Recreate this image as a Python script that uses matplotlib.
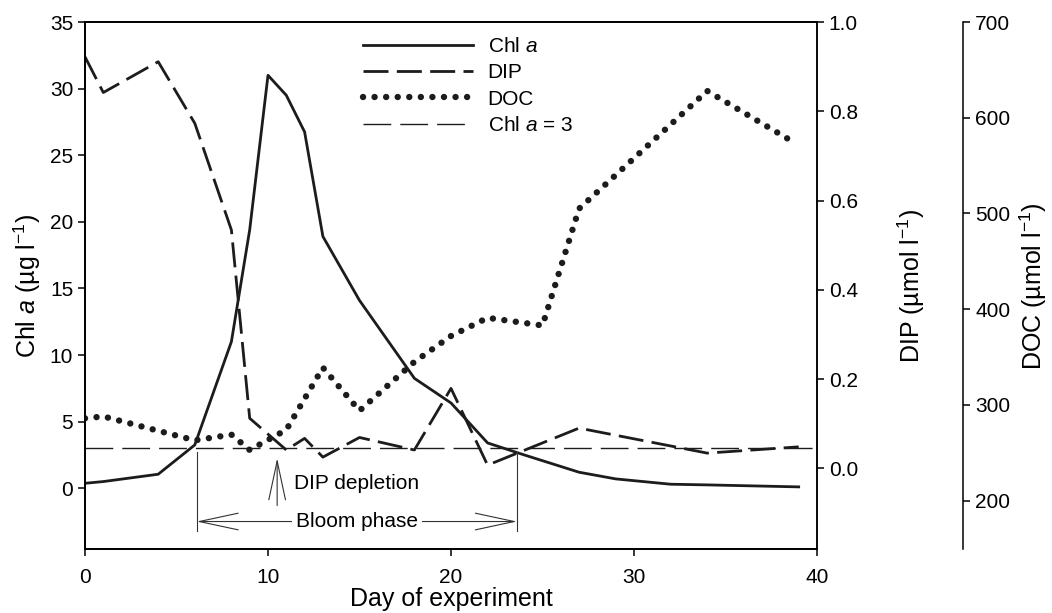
import matplotlib
matplotlib.use("Agg")
import matplotlib.pyplot as plt

plt.rcParams["font.family"] = ["Liberation Sans", "DejaVu Sans"]
plt.rcParams["mathtext.fontset"] = "custom"
plt.rcParams["mathtext.rm"] = "Liberation Sans"
plt.rcParams["mathtext.it"] = "Liberation Sans:italic"
plt.rcParams["font.size"] = 15

# Chl a (ug/l), left axis
chl_days = [0, 1, 4, 6, 8, 9, 10, 11, 12, 13, 15, 18, 20, 22, 24, 27, 29, 32, 34, 39]
chl_vals = [0.37, 0.5, 1.05, 3.25, 11.0, 19.4, 31.0, 29.5, 26.75, 18.9, 14.1, 8.25,
            6.4, 3.4, 2.5, 1.2, 0.7, 0.3, 0.25, 0.1]

# DIP (umol/l), first right axis
dip_days = [0, 1, 4, 6, 8, 9, 11, 12, 13, 15, 18, 20, 22, 27, 34, 39]
dip_vals = [0.922, 0.842, 0.911, 0.773, 0.534, 0.112, 0.041, 0.067, 0.025, 0.069,
            0.041, 0.179, 0.007, 0.09, 0.034, 0.048]

# DOC (umol/l), second right axis
doc_days = [0, 1, 6, 8, 9, 11, 13, 15, 18, 20, 22, 25, 27, 34, 38.5]
doc_vals = [286, 288, 263, 269, 253, 274, 339, 294, 345, 372, 391, 383, 505, 628, 577]

chl_threshold = 3
bloom_start, bloom_end = 6.1, 23.6
depletion_day = 10.5

ink = "#1c1c1c"

fig = plt.figure(figsize=(10.52, 6.13), dpi=100)
ax = fig.add_axes([0.0808, 0.1036, 0.6958, 0.8605])
ax_dip = ax.twinx()
ax_doc = ax.twinx()
ax_doc.spines["right"].set_position(("axes", 1.2))

for a in (ax, ax_dip, ax_doc):
    for s in a.spines.values():
        s.set_linewidth(1.1)
    a.tick_params(direction="out", length=5, width=1.1, labelsize=15)
ax.tick_params(axis="x", pad=8)

l_chl, = ax.plot(chl_days, chl_vals, color=ink, lw=2.0, label="Chl $\\mathit{a}$")
l_dip, = ax_dip.plot(dip_days, dip_vals, color=ink, lw=2.0,
                     linestyle=(0, (9, 3)), label="DIP")
l_doc, = ax_doc.plot(doc_days, doc_vals, color=ink, lw=4.6,
                     linestyle=(0, (0.01, 1.8)), dash_capstyle="round", label="DOC")
l_thr = ax.axhline(chl_threshold, color=ink, lw=1.0, linestyle=(0, (20, 6.5)),
                   label="Chl $\\mathit{a}$ = 3")

ax.set_xlim(0, 40)
ax.set_ylim(-4.6, 35)
ax.set_xticks([0, 10, 20, 30, 40])
ax.set_yticks(range(0, 36, 5))
ax_dip.set_ylim(-0.182, 1.0)
ax_dip.set_yticks([0.0, 0.2, 0.4, 0.6, 0.8, 1.0])
ax_dip.set_yticklabels(["0.0", "0.2", "0.4", "0.6", "0.8", "1.0"])
ax_doc.set_ylim(149, 700)
ax_doc.set_yticks(range(200, 701, 100))

ax.set_xlabel("Day of experiment", fontsize=18, labelpad=0)
ax.set_ylabel("Chl $\\mathit{a}$ (µg l$^{-1}$)", fontsize=18, labelpad=5)
ax_dip.set_ylabel("DIP (µmol l$^{-1}$)", fontsize=18, labelpad=27)
ax_doc.set_ylabel("DOC (µmol l$^{-1}$)", fontsize=18, labelpad=5)

# bloom phase markers
for d in (bloom_start, bloom_end):
    ax.plot([d, d], [2.7, -3.2], color="#333333", lw=0.8)
ax.annotate("", xy=(bloom_start, -2.5), xytext=(bloom_end, -2.5),
            arrowprops=dict(arrowstyle="<->,head_length=1.4,head_width=0.3",
                            mutation_scale=20, color="#333333", lw=0.8,
                            shrinkA=0, shrinkB=0))
ax.text((bloom_start + bloom_end) / 2, -2.5, "Bloom phase", ha="center", va="center",
        fontsize=15, bbox=dict(facecolor="white", edgecolor="none", pad=3))
ax.annotate("", xy=(depletion_day, 2.25), xytext=(depletion_day, -1.3),
            arrowprops=dict(arrowstyle="->,head_length=1.4,head_width=0.3",
                            mutation_scale=20, color="#333333", lw=0.8,
                            shrinkA=0, shrinkB=0))
ax.text(depletion_day + 0.9, 0.35, "DIP depletion", ha="left", va="center", fontsize=15)

fig.legend(handles=[l_chl, l_dip, l_doc, l_thr], loc="upper left",
           bbox_to_anchor=(0.3448, 0.9396), frameon=False, fontsize=15,
           handlelength=5.3, handletextpad=0.7, labelspacing=0.35,
           borderpad=0, borderaxespad=0)

fig.savefig("out.png", dpi=100)
